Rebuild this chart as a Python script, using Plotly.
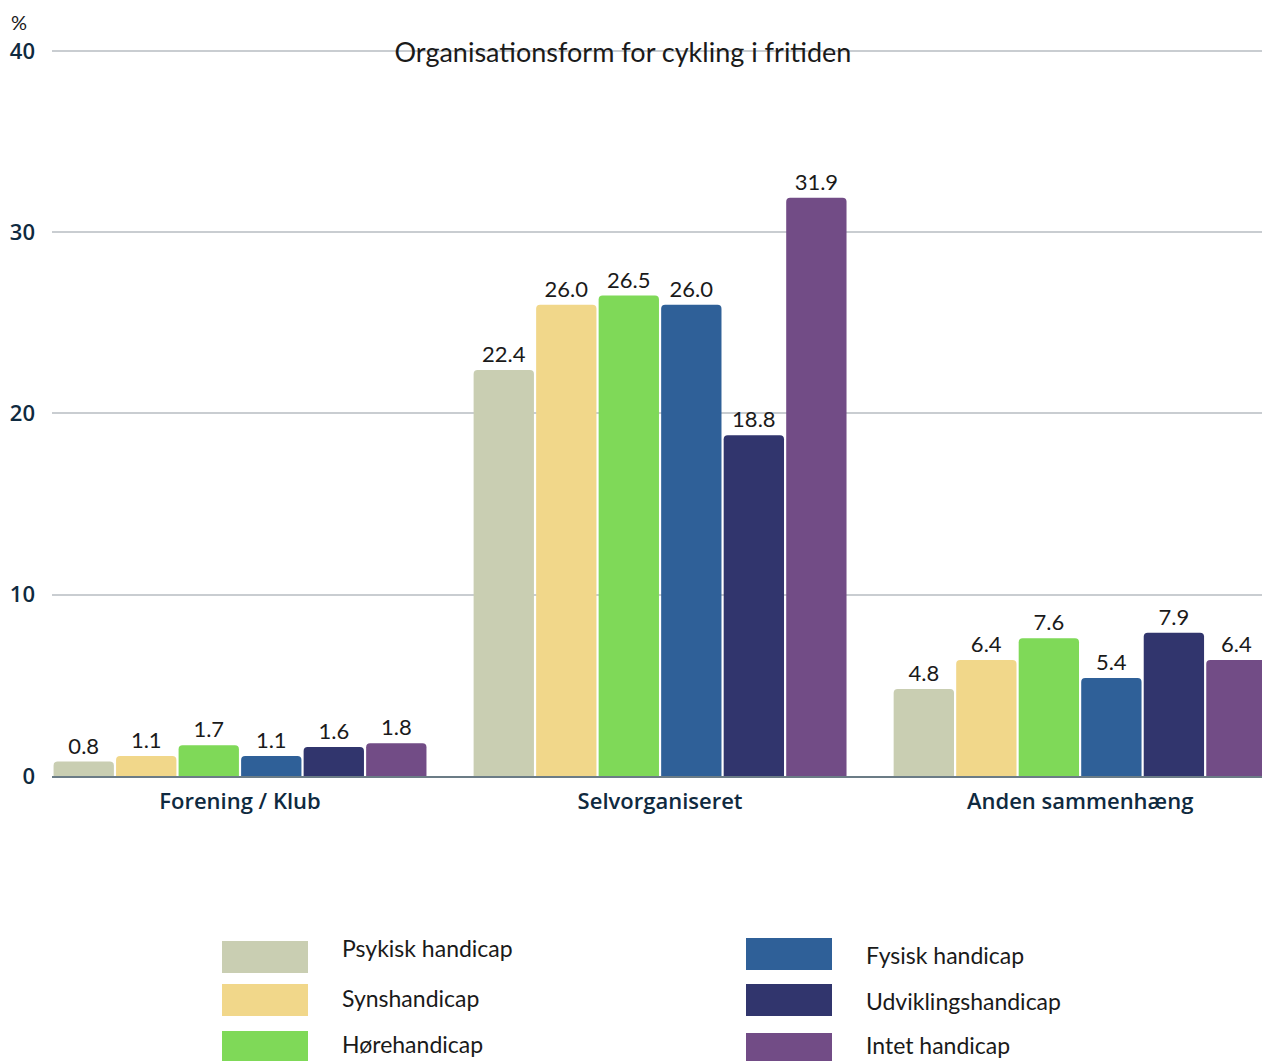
import plotly.graph_objects as go

# Categories and series
categories = ["Forening / Klub", "Selvorganiseret", "Anden sammenhæng"]
series_names = [
    "Psykisk handicap",
    "Synshandicap",
    "Hørehandicap",
    "Fysisk handicap",
    "Udviklingshandicap",
    "Intet handicap",
]
psykisk = [0.8, 22.4, 4.8]
syns = [1.1, 26.0, 6.4]
hore = [1.7, 26.5, 7.6]
fysisk = [1.1, 26.0, 5.4]
udvikling = [1.6, 18.8, 7.9]
intet = [1.8, 31.9, 6.4]
series_values = [psykisk, syns, hore, fysisk, udvikling, intet]

colors = ["#C9CEB2", "#F1D78A", "#7FD958", "#2F6098", "#31356D", "#724C86"]
y_ticks = [0, 10, 20, 30, 40]

W, H = 1262, 1061
ML, MR, MT, MB = 52, 0, 49, 285
plot_w = W - ML - MR
plot_h = H - MT - MB

LABEL_FONT = "Lato, 'Noto Sans', sans-serif"
AXIS_FONT = "'Open Sans', 'Noto Sans', sans-serif"
AXIS_COLOR = "#0F2A40"


def px_x(px):
    return (px - ML) / plot_w


def px_y(py):
    return (H - MB - py) / plot_h


fig = go.Figure()
for name, vals, col in zip(series_names, series_values, colors):
    fig.add_trace(
        go.Bar(
            name=name,
            x=categories,
            y=vals,
            marker=dict(color=col, line=dict(width=0)),
            texttemplate="%{y:.1f}",
            textposition="outside",
            textfont=dict(family=LABEL_FONT, size=22, color="#1a1a1a"),
            constraintext="none",
            cliponaxis=False,
            showlegend=False,
        )
    )

# Legend drawn as large swatches with labels, two columns of three
legend_cols = [
    dict(sx=222, tx=340, rows=[(941, 973, 948), (984, 1016, 998), (1031, 1063, 1044)]),
    dict(sx=746, tx=864, rows=[(938, 970, 955), (984, 1016, 1001), (1033, 1065, 1045)]),
]
shapes = []
annotations = []
for i, (name, col) in enumerate(zip(series_names, colors)):
    c = legend_cols[i // 3]
    y0, y1, ty = c["rows"][i % 3]
    shapes.append(
        dict(
            type="rect", xref="paper", yref="paper",
            x0=px_x(c["sx"]), x1=px_x(c["sx"] + 86),
            y0=px_y(y1), y1=px_y(y0),
            fillcolor=col, line=dict(width=0), layer="above",
        )
    )
    annotations.append(
        dict(
            text=name, xref="paper", yref="paper",
            x=px_x(c["tx"]), y=px_y(ty),
            xanchor="left", yanchor="middle", showarrow=False,
            font=dict(family=LABEL_FONT, size=23, color="#1a1a1a"),
        )
    )

# Unit label above the y axis
annotations.append(
    dict(
        text="%", xref="paper", yref="paper",
        x=px_x(19), y=px_y(22), xanchor="center", yanchor="middle",
        showarrow=False, font=dict(family=LABEL_FONT, size=20, color="#1a1a1a"),
    )
)

fig.update_layout(
    width=W,
    height=H,
    margin=dict(l=ML, r=MR, t=MT, b=MB, pad=0),
    paper_bgcolor="white",
    plot_bgcolor="white",
    barmode="group",
    bargap=0.107,
    bargroupgap=0.035,
    barcornerradius=4,
    title=dict(
        text="Organisationsform for cykling i fritiden",
        x=623 / W, xref="container", xanchor="center",
        y=1 - 53 / H, yref="container", yanchor="middle",
        font=dict(family=LABEL_FONT, size=27, color="#1a1a1a"),
    ),
    xaxis=dict(
        type="category",
        range=[-0.4476, 2.433],
        showline=True, linecolor="#6B7C86", linewidth=2,
        showgrid=False, ticks="",
        ticklabelstandoff=5,
        tickfont=dict(family=AXIS_FONT, size=22, color=AXIS_COLOR, weight=600),
    ),
    yaxis=dict(
        range=[0, 40.1],
        tickvals=y_ticks,
        showgrid=True, gridcolor="#C9CDD1", gridwidth=1.5,
        zeroline=False, showline=False, ticks="",
        ticklabelstandoff=16,
        tickfont=dict(family=AXIS_FONT, size=22, color=AXIS_COLOR, weight=600),
    ),
    shapes=shapes,
    annotations=annotations,
)

fig.write_html("out.html")
